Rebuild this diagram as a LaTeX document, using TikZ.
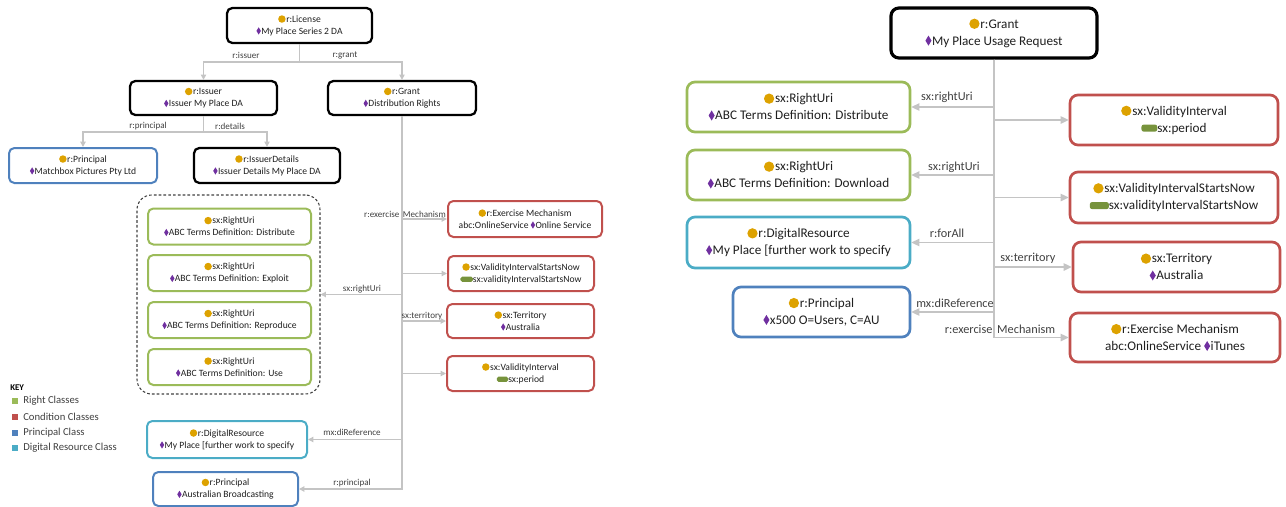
\documentclass[tikz,border=0pt]{standalone}
\usepackage{fontspec}
\setmainfont{Carlito}
\usetikzlibrary{arrows.meta}

\definecolor{dotc}{HTML}{DDA200}
\definecolor{diac}{HTML}{7030A0}
\definecolor{pillc}{HTML}{77933C}
\definecolor{rightc}{HTML}{9BBB59}
\definecolor{condc}{HTML}{C0504D}
\definecolor{princ}{HTML}{4F81BD}
\definecolor{resc}{HTML}{4BACC6}
\definecolor{edgec}{HTML}{C4C4C4}
\definecolor{txtc}{HTML}{1F1F1F}
\definecolor{lblc}{HTML}{404040}

% class marker, value marker and literal marker
\newcommand{\clsdot}{\tikz[baseline=0pt,sharp corners]\fill[dotc] (0,0.33em) circle[radius=0.39em];\hspace{0.06em}}
\newcommand{\valdia}{\tikz[baseline=0pt,sharp corners]\fill[diac] (0,-0.04em) -- (0.23em,0.34em) -- (0,0.72em) -- (-0.23em,0.34em) -- cycle;\hspace{0.04em}}
\newcommand{\valpill}[1][1.2em]{\tikz[baseline=0pt]\fill[pillc,rounded corners=0.18em] (0,0.04em) rectangle (#1,0.58em);}

\begin{document}
\begin{tikzpicture}[x=0.75pt,y=-0.75pt,
  sz/.style 2 args={minimum width={#1*0.75pt},minimum height={#2*0.75pt}},
  lnode/.style={rectangle,rounded corners=4pt,line width=1.5pt,inner sep=0pt,align=center,
    text=txtc,font=\fontsize{7.2}{9}\selectfont},
  rnode/.style={rectangle,rounded corners=6pt,line width=2pt,inner sep=0pt,align=center,
    text=txtc,font=\fontsize{9.9}{12.75}\selectfont},
  lkey/.style={lnode,draw=black,line width=1.7pt},
  lright/.style={lnode,draw=rightc},
  lcond/.style={lnode,draw=condc},
  lprin/.style={lnode,draw=princ},
  lres/.style={lnode,draw=resc},
  rkey/.style={rnode,draw=black,line width=2.4pt},
  rright/.style={rnode,draw=rightc},
  rcond/.style={rnode,draw=condc},
  rprin/.style={rnode,draw=princ},
  rres/.style={rnode,draw=resc},
  lline/.style={draw=edgec,line width=0.9pt},
  ledge/.style={lline,-{Triangle[length=4pt,width=4pt]}},
  rline/.style={draw=edgec,line width=1.2pt},
  redge/.style={rline,-{Triangle[length=6pt,width=5.5pt]}},
  llab/.style={text=lblc,font=\fontsize{6.8}{8}\selectfont,inner sep=0pt},
  rlab/.style={text=lblc,font=\fontsize{9.2}{11}\selectfont,inner sep=0pt},
  ksq/.style={minimum size=4.5pt,inner sep=0pt},
  ktxt/.style={anchor=west,text=lblc,font=\fontsize{8}{10}\selectfont,inner sep=0pt}]

\useasboundingbox (0,0) rectangle (1286,507);

% ---------------- licence tree ----------------
\node[lkey,sz={145}{35}] (lic) at (299.5,25.5) {\clsdot r:License\\\valdia My Place Series 2 DA};
\node[lkey,sz={147}{34}] (iss) at (203.5,98) {\clsdot r:Issuer\\\valdia Issuer My Place DA};
\node[lkey,sz={148}{34}] (grantL) at (402,98) {\clsdot r:Grant\\\valdia Distribution Rights};
\node[lprin,sz={148}{35}] (prM) at (83,165.5) {\clsdot r:Principal\\\valdia Matchbox Pictures Pty Ltd};
\node[lkey,sz={146}{35}] (idet) at (267,165.5) {\clsdot r:IssuerDetails\\\valdia Issuer Details My Place DA};

\node[draw=lblc,line width=0.8pt,dash pattern=on 2pt off 1.6pt,rounded corners=11pt,
  sz={183}{199},inner sep=0pt] (grp) at (228.5,294.5) {};
\node[lright,sz={163}{36}] (ru1) at (229.5,226.5) {\clsdot sx:RightUri\\\valdia ABC Terms Definition: Distribute};
\node[lright,sz={163}{36}] (ru2) at (229.5,273) {\clsdot sx:RightUri\\\valdia ABC Terms Definition: Exploit};
\node[lright,sz={163}{36}] (ru3) at (229.5,320) {\clsdot sx:RightUri\\\valdia ABC Terms Definition: Reproduce};
\node[lright,sz={163}{36}] (ru4) at (229.5,367) {\clsdot sx:RightUri\\\valdia ABC Terms Definition: Use};

\node[lcond,sz={154}{36}] (exL) at (525,219) {\clsdot r:Exercise Mechanism\\abc:OnlineService \valdia Online Service};
\node[lcond,sz={146}{35}] (visnL) at (521,273.5) {\clsdot sx:ValidityIntervalStartsNow\\\valpill[1.3em]sx:validityIntervalStartsNow};
\node[lcond,sz={147}{34}] (terrL) at (520.5,321) {\clsdot sx:Territory\\\valdia Australia};
\node[lcond,sz={147}{35}] (viL) at (520.5,373.5) {\clsdot sx:ValidityInterval\\\valpill sx:period};
\node[lres,sz={160}{37}] (drL) at (227,439.5) {\clsdot r:DigitalResource\\\valdia My Place [further work to specify};
\node[lprin,sz={145}{34}] (prL) at (225.5,489) {\clsdot r:Principal\\\valdia Australian Broadcasting};

% licence connectors
\coordinate (licj) at (299.5,62);
\coordinate (issj) at (203.5,132);
\draw[lline] (lic.south) -- (licj);
\draw[ledge] (licj) -| (iss.north);
\draw[ledge] (licj) -| (grantL.north);
\draw[lline] (iss.south) -- (issj);
\draw[ledge] (issj) -| (prM.north);
\draw[ledge] (issj) -| (idet.north);
\draw[ledge] (grantL.south) |- (exL.west);
\draw[ledge] (grantL.south) |- (visnL.west);
\draw[ledge] (grantL.south) |- (grp.east);
\draw[ledge] (grantL.south) |- (terrL.west);
\draw[ledge] (grantL.south) |- (viL.west);
\draw[ledge] (grantL.south) |- (drL.east);
\draw[ledge] (grantL.south) |- (prL.east);

\node[llab] (l1) at (246,55) {r:issuer};
\node[llab] (l2) at (345,55) {r:grant};
\node[llab] (l3) at (148,126) {r:principal};
\node[llab] (l4) at (230,126) {r:details};
\node[llab] (l5) at (405,214) {r:exercise\ \,Mechanism};
\node[llab] (l6) at (362,289) {sx:rightUri};
\node[llab] (l7) at (422,316) {sx:territory};
\node[llab] (l8) at (352,432) {mx:diReference};
\node[llab] (l9) at (352,483) {r:principal};

% key
\node[anchor=west,inner sep=0pt,font=\bfseries\fontsize{6.6}{8}\selectfont] (keyt) at (10,388) {KEY};
\node[ksq,fill=rightc] (k1) at (14.5,401) {};
\node[ktxt] (k1t) at (23,401) {Right Classes};
\node[ksq,fill=condc] (k2) at (14.5,417) {};
\node[ktxt] (k2t) at (23,417) {Condition Classes};
\node[ksq,fill=princ] (k3) at (14.5,433) {};
\node[ktxt] (k3t) at (23,433) {Principal Class};
\node[ksq,fill=resc] (k4) at (14.5,448) {};
\node[ktxt] (k4t) at (23,448) {Digital Resource Class};

% ---------------- usage request ----------------
\node[rkey,sz={206}{50}] (grantR) at (994,33) {\clsdot r:Grant\\\valdia My Place Usage Request};
\node[rright,sz={223}{50}] (ruR1) at (798.5,107) {\clsdot sx:RightUri\\\valdia ABC Terms Definition: Distribute};
\node[rright,sz={223}{50}] (ruR2) at (798.5,175) {\clsdot sx:RightUri\\\valdia ABC Terms Definition: Download};
\node[rres,sz={223}{51}] (drR) at (798.5,242.5) {\clsdot r:DigitalResource\\\valdia My Place [further work to specify};
\node[rprin,sz={177}{50}] (prR) at (821.5,312) {\clsdot r:Principal\\\valdia x500 O=Users, C=AU};
\node[rcond,sz={208}{50}] (viR) at (1174,120) {\clsdot sx:ValidityInterval\\\valpill sx:period};
\node[rcond,sz={208}{51}] (visnR) at (1174,197.5) {\clsdot sx:ValidityIntervalStartsNow\\\valpill[1.45em]sx:validityIntervalStartsNow};
\node[rcond,sz={207}{50}] (terrR) at (1176.5,267) {\clsdot sx:Territory\\\valdia Australia};
\node[rcond,sz={210}{49}] (exR) at (1175,337.5) {\clsdot r:Exercise Mechanism\\abc:OnlineService \valdia iTunes};

\draw[redge] (grantR.south) |- (ruR1.east);
\draw[redge] (grantR.south) |- (ruR2.east);
\draw[redge] (grantR.south) |- (drR.east);
\draw[redge] (grantR.south) |- (prR.east);
\draw[redge] (grantR.south) |- (viR.west);
\draw[redge] (grantR.south) |- (visnR.west);
\draw[redge] (grantR.south) |- (terrR.west);
\draw[redge] (grantR.south) |- (exR.west);

\node[rlab] (m1) at (947,97) {sx:rightUri};
\node[rlab] (m2) at (954,167) {sx:rightUri};
\node[rlab] (m3) at (947,233) {r:forAll};
\node[rlab] (m4) at (1028,258) {sx:territory};
\node[rlab] (m5) at (955,303) {mx:diReference};
\node[rlab] (m6) at (1000,329) {r:exercise\ \,Mechanism};
\end{tikzpicture}
\end{document}
